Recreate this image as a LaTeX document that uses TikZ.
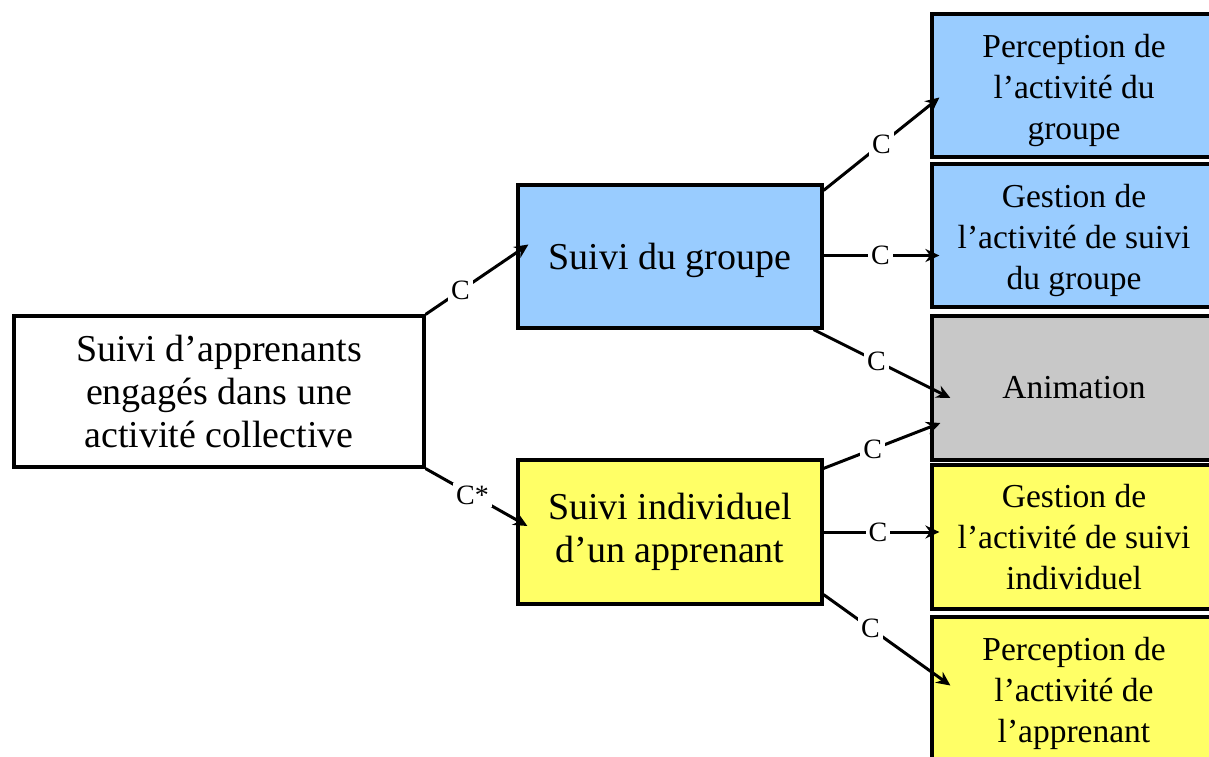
\documentclass[tikz,border=0pt]{standalone}
\usepackage{fontspec}
\setmainfont{Liberation Serif}
\usetikzlibrary{arrows.meta,calc}
\definecolor{boxblue}{RGB}{153,204,255}
\definecolor{boxyellow}{RGB}{255,255,102}
\definecolor{boxgray}{RGB}{200,200,200}
\newcommand\lowstack[1]{\raisebox{-5pt}[\height][\depth]{\begin{tabular}{@{}c@{}}#1\end{tabular}}}
\tikzset{
  box/.style={draw=black, line width=3.2pt, rectangle, align=center, inner sep=0pt},
  bigbox/.style={box, font=\fontsize{38}{43}\selectfont},
  smallbox/.style={box, minimum width=284pt, minimum height=143pt, font=\fontsize{33.5}{41}\selectfont},
  conn/.style={line width=3pt, -{Stealth[length=14pt,width=13pt]}},
  lab/.style={fill=white, inner sep=3pt, font=\fontsize{28}{28}\selectfont}
}
\begin{document}
\begin{tikzpicture}[x=1pt,y=-1pt]
\useasboundingbox (0,0) rectangle (1209,756);
\clip (0,0) rectangle (1209,756);
\fill[white] (0,0) rectangle (1209,756);

\node[bigbox, fill=white, minimum width=410pt, minimum height=151pt] (root) at (219,391.5)
  {Suivi d’apprenants\\engagés dans une\\activité collective};
\node[bigbox, fill=boxblue, minimum width=304pt, minimum height=143pt] (grp) at (670,256.5)
  {\raisebox{-4pt}[\height][\depth]{Suivi du groupe}};
\node[bigbox, fill=boxyellow, minimum width=304pt, minimum height=144pt] (ind) at (670,532)
  {Suivi individuel\\d’un apprenant};

\node[smallbox, fill=boxblue] (b1) at (1074,85.5) {\lowstack{Perception de\\l’activité du\\groupe}};
\node[smallbox, fill=boxblue] (b2) at (1074,235.5) {\lowstack{Gestion de\\l’activité de suivi\\du groupe}};
\node[smallbox, fill=boxgray, minimum height=144pt] (b3) at (1074,388) {Animation};
\node[smallbox, fill=boxyellow, minimum height=144pt] (b4) at (1074,537) {Gestion de\\l’activité de suivi\\individuel};
\node[smallbox, fill=boxyellow] (b5) at (1074,688.5) {\lowstack{Perception de\\l’activité de\\l’apprenant}};

\draw[conn] (root.north east) -- node[lab, pos=0.34] {C} ($(grp.west)+(12,-12)$);
\draw[conn] (root.south east) -- node[lab, pos=0.46] {C*} ($(ind.west)+(11,-6)$);

\draw[conn] ($(grp.north east)+(0,7)$) -- node[lab, pos=0.5] {C} ($(b1.west)+(9,12)$);
\draw[conn] ($(grp.east)+(0,-1)$) -- node[lab, pos=0.49] {C} ($(b2.west)+(9,20)$);
\draw[conn] ($(grp.south east)+(-10,0)$) -- node[lab, pos=0.46] {C} ($(b3.west)+(20,10)$);

\draw[conn] ($(ind.north east)+(0,10)$) -- node[lab, pos=0.42] {C} ($(b3.west)+(10,35)$);
\draw[conn] ($(ind.east)+(0,0)$) -- node[lab, pos=0.47] {C} ($(b4.west)+(9,-5)$);
\draw[conn] ($(ind.south east)+(0,-11)$) -- node[lab, pos=0.37] {C} ($(b5.west)+(20,-3)$);
\end{tikzpicture}
\end{document}
